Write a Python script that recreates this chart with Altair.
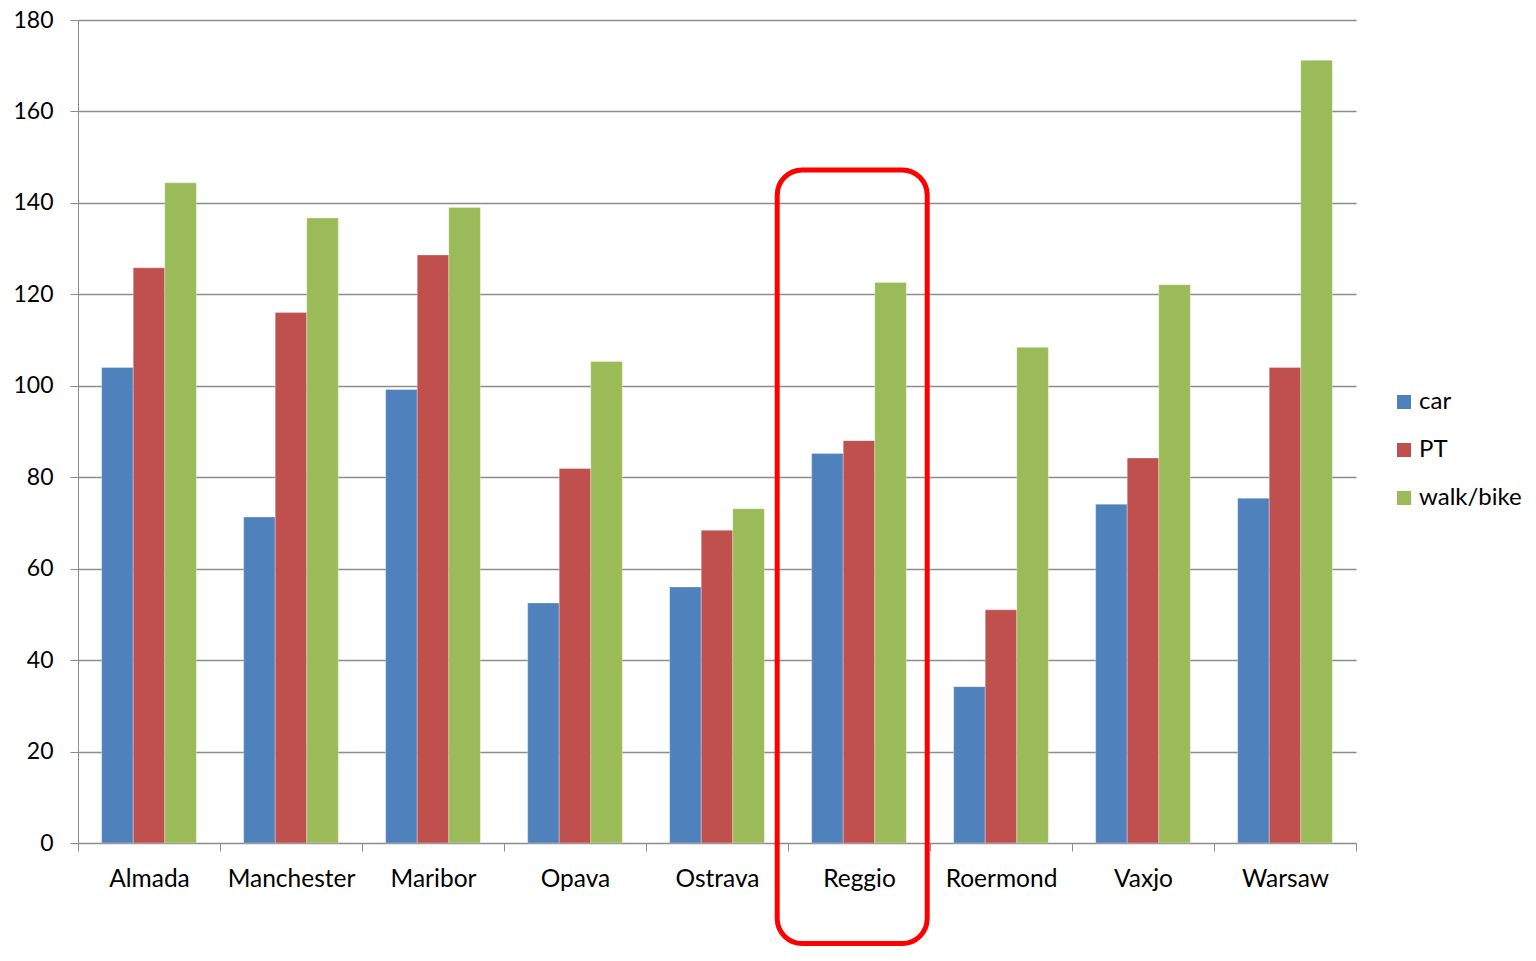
import altair as alt
import pandas as pd

cities = ["Almada", "Manchester", "Maribor", "Opava", "Ostrava", "Reggio", "Roermond", "Vaxjo", "Warsaw"]
modes = ["car", "PT", "walk/bike"]
car = [104, 71.3, 99.2, 52.5, 56.0, 85.2, 34.2, 74.1, 75.4]
pt = [125.8, 116.0, 128.6, 81.9, 68.4, 88.0, 51.0, 84.2, 104.0]
walk = [144.4, 136.7, 139.0, 105.3, 73.1, 122.6, 108.4, 122.1, 171.2]
colors = ["#4F81BD", "#C0504D", "#9BBB59"]

highlight_city = ["Reggio"]
highlight_top = [147.2]
highlight_bottom = [-22.0]

rows = []
for i, c in enumerate(cities):
    for m, vals in zip(modes, [car, pt, walk]):
        rows.append({"city": c, "mode": m, "value": vals[i]})
df = pd.DataFrame(rows)
hl = pd.DataFrame({"city": highlight_city, "top": highlight_top, "bottom": highlight_bottom})

FONT = "Lato"
xscale = alt.Scale(domain=cities, paddingInner=0, paddingOuter=0)

bars = alt.Chart(df).mark_bar(stroke="white", strokeWidth=0.5, strokeOpacity=0.6).encode(
    x=alt.X("city:N", scale=xscale, title=None,
            axis=alt.Axis(labelAngle=0, tickBand="extent", labelFontSize=24.5, labelFont=FONT,
                          labelColor="black", labelPadding=16, tickSize=8, tickColor="#8c8c8c",
                          domainColor="#8c8c8c", grid=False)),
    xOffset=alt.XOffset("mode:N", sort=modes, scale=alt.Scale(paddingOuter=0.75, paddingInner=0)),
    y=alt.Y("value:Q", scale=alt.Scale(domain=[0, 180], nice=False), title=None,
            axis=alt.Axis(values=list(range(0, 181, 20)), labelFontSize=23, labelFont=FONT,
                          labelColor="black", labelPadding=17, tickSize=8, tickColor="#8c8c8c",
                          domainColor="#8c8c8c", gridColor="#8c8c8c", gridWidth=1.3)),
    color=alt.Color("mode:N", sort=modes, scale=alt.Scale(domain=modes, range=colors),
                    legend=alt.Legend(title=None, orient="none", legendX=1314, legendY=370,
                                      symbolType="square", symbolSize=196, symbolStrokeWidth=0,
                                      labelFontSize=24, labelFont=FONT, labelColor="black",
                                      labelOffset=3, rowPadding=24, padding=0)),
)

box = alt.Chart(hl).mark_rect(fillOpacity=0, stroke="#FF0000", strokeWidth=5, cornerRadius=25,
                              xOffset=-6.8, width=150, clip=False).encode(
    x=alt.X("city:N", scale=xscale),
    y=alt.Y("top:Q"),
    y2="bottom:Q",
)

chart = alt.layer(bars, box).properties(
    width=1278, height=823,
    autosize=alt.AutoSizeParams(type="none"),
    padding={"left": 70, "top": 12, "right": 170, "bottom": 105},
).configure_view(stroke=None).configure_axis(gridColor="#8c8c8c")

chart.save("out.html", embed_options={"renderer": "svg", "actions": False})
